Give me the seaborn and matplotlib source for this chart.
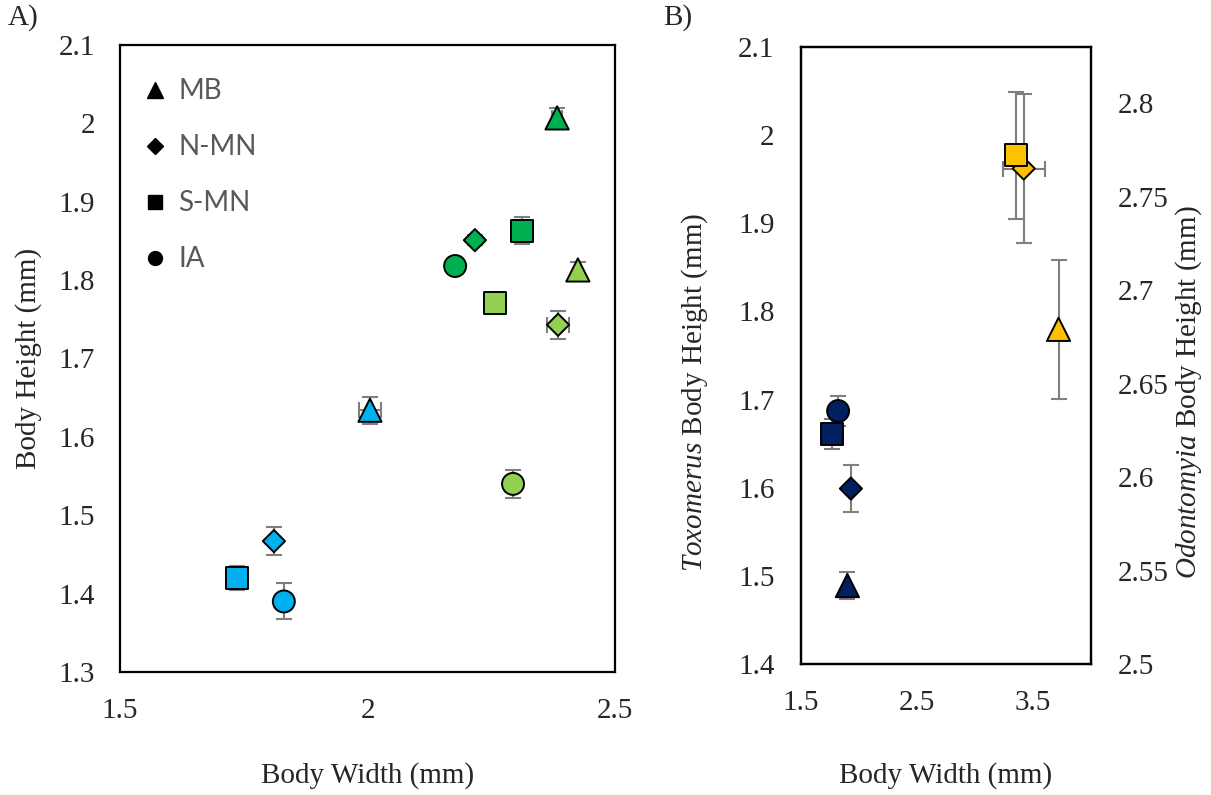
import matplotlib
matplotlib.use("Agg")
import matplotlib.pyplot as plt
from matplotlib.lines import Line2D
from matplotlib.ticker import FixedLocator, FuncFormatter
import pandas as pd
import seaborn as sns

# ---------------------------------------------------------------- data
regions = ["MB", "N-MN", "S-MN", "IA"]

# Panel A: three populations, one mean per region (mm) with standard errors
a_dark_width = [2.383, 2.217, 2.312, 2.177]
a_dark_height = [2.007, 1.851, 1.863, 1.818]
a_dark_xerr = [0.010, 0.004, 0.004, 0.004]
a_dark_yerr = [0.013, 0.006, 0.017, 0.006]

a_light_width = [2.425, 2.385, 2.258, 2.294]
a_light_height = [1.813, 1.743, 1.771, 1.540]
a_light_xerr = [0.004, 0.022, 0.004, 0.004]
a_light_yerr = [0.010, 0.018, 0.006, 0.018]

a_blue_width = [2.005, 1.811, 1.736, 1.831]
a_blue_height = [1.634, 1.467, 1.420, 1.390]
a_blue_xerr = [0.022, 0.005, 0.005, 0.005]
a_blue_yerr = [0.017, 0.018, 0.015, 0.023]

# Panel B: Toxomerus (left axis) and Odontomyia (right axis)
tox_width = [1.90, 1.93, 1.77, 1.82]
tox_height = [1.489, 1.599, 1.661, 1.687]
tox_xerr = [0.0, 0.0, 0.0, 0.0]
tox_yerr = [0.015, 0.027, 0.017, 0.017]

odo_width = [3.72, 3.42, 3.35]
odo_height = [2.679, 2.765, 2.772]
odo_xerr = [0.0, 0.18, 0.0]
odo_yerr = [0.037, 0.040, 0.034]
odo_regions = ["MB", "N-MN", "S-MN"]

a_ticks_x = [1.5, 2.0, 2.5]
a_ticks_y = [1.3, 1.4, 1.5, 1.6, 1.7, 1.8, 1.9, 2.0, 2.1]
b_ticks_x = [1.5, 2.5, 3.5]
b_ticks_y = [1.4, 1.5, 1.6, 1.7, 1.8, 1.9, 2.0, 2.1]
b_ticks_y2 = [2.5, 2.55, 2.6, 2.65, 2.7, 2.75, 2.8]

# ---------------------------------------------------------------- style
sns.set_style("white")
plt.rcParams["font.family"] = ["Liberation Serif", "DejaVu Serif"]
plt.rcParams["mathtext.fontset"] = "custom"
plt.rcParams["mathtext.rm"] = "Liberation Serif"
plt.rcParams["mathtext.it"] = "Liberation Serif:italic"

FS = 21
colors = {"dark": "#00B050", "light": "#92D050", "blue": "#00B0F0",
          "navy": "#002060", "gold": "#FFC000"}
markers = {"MB": "^", "N-MN": "D", "S-MN": "s", "IA": "o"}
areas = {"MB": 280, "N-MN": 128, "S-MN": 250, "IA": 250}
draw_rank = {"MB": 0, "IA": 1, "N-MN": 2, "S-MN": 3}
ERR = dict(fmt="none", ecolor="#7F7F7F", elinewidth=1.5, capsize=5.5,
           capthick=1.5, zorder=2)


def frame(rows):
    df = pd.DataFrame(rows, columns=["group", "region", "width", "height",
                                     "xerr", "yerr"])
    return df.sort_values("region", key=lambda s: s.map(draw_rank),
                          kind="stable").reset_index(drop=True)


def add_points(ax, df):
    ax.errorbar(df["width"], df["height"], yerr=df["yerr"], **ERR)
    xb = df[df["xerr"] > 0]
    ax.errorbar(xb["width"], xb["height"], xerr=xb["xerr"], **ERR)
    sns.scatterplot(data=df, x="width", y="height", hue="group",
                    palette=colors, style="region", markers=markers,
                    size="region", sizes=areas, edgecolor="black",
                    linewidth=1.4, legend=False, ax=ax, zorder=3)


def style_axis(ax):
    for sp in ax.spines.values():
        sp.set_visible(True)
        sp.set_color("black")
        sp.set_linewidth(1.6)
    ax.tick_params(length=0, labelsize=FS)
    fmt = FuncFormatter(lambda v, p: f"{round(v, 3):g}")
    ax.xaxis.set_major_formatter(fmt)
    ax.yaxis.set_major_formatter(fmt)
    ax.set_xlabel("")
    ax.set_ylabel("")
    ax.grid(False)


rows_a = []
for key, w, h, xe, ye in [
        ("dark", a_dark_width, a_dark_height, a_dark_xerr, a_dark_yerr),
        ("light", a_light_width, a_light_height, a_light_xerr, a_light_yerr),
        ("blue", a_blue_width, a_blue_height, a_blue_xerr, a_blue_yerr)]:
    for i, r in enumerate(regions):
        rows_a.append((key, r, w[i], h[i], xe[i], ye[i]))
df_a = frame(rows_a)

df_tox = frame([("navy", r, tox_width[i], tox_height[i], tox_xerr[i],
                 tox_yerr[i]) for i, r in enumerate(regions)])
df_odo = frame([("gold", r, odo_width[i], odo_height[i], odo_xerr[i],
                 odo_yerr[i]) for i, r in enumerate(odo_regions)])

# ---------------------------------------------------------------- figure
fig = plt.figure(figsize=(12.11, 7.95), dpi=100)
W, H = 1211, 795

# Panel A
ax_a = fig.add_axes([120 / W, 1 - 672 / H, 495 / W, 627 / H])
add_points(ax_a, df_a)
style_axis(ax_a)
ax_a.set_xlim(1.5, 2.5)
ax_a.set_ylim(1.3, 2.1)
ax_a.xaxis.set_major_locator(FixedLocator(a_ticks_x))
ax_a.yaxis.set_major_locator(FixedLocator(a_ticks_y))
ax_a.tick_params(axis="y", pad=18)
ax_a.tick_params(axis="x", pad=19)
ax_a.set_xlabel("Body Width (mm)", fontsize=FS)
ax_a.set_ylabel("Body Height (mm)", fontsize=FS)
ax_a.xaxis.set_label_coords(0.5, -0.143)
ax_a.yaxis.set_label_coords(-0.158, 0.5)

handles = [Line2D([], [], marker="^", color="black", linestyle="none", markersize=12),
           Line2D([], [], marker="D", color="black", linestyle="none", markersize=7.8),
           Line2D([], [], marker="s", color="black", linestyle="none", markersize=10),
           Line2D([], [], marker="o", color="black", linestyle="none", markersize=10)]
ax_a.legend(handles, regions, loc="upper left", bbox_to_anchor=(0.042, 0.947),
            frameon=False, borderpad=0, borderaxespad=0, handlelength=1.0,
            handletextpad=0.35, labelspacing=1.08, labelcolor="#595959",
            prop={"family": ["Lato", "DejaVu Sans"], "size": 20})

# Panel B
ax_b = fig.add_axes([801 / W, 1 - 664 / H, 290 / W, 617 / H])
ax_b2 = ax_b.twinx()
add_points(ax_b, df_tox)
add_points(ax_b2, df_odo)
for ax in (ax_b, ax_b2):
    style_axis(ax)
ax_b.set_xlim(1.5, 4.0)
ax_b.set_ylim(1.4, 2.1)
ax_b2.set_ylim(2.5, 2.83)
ax_b.xaxis.set_major_locator(FixedLocator(b_ticks_x))
ax_b.yaxis.set_major_locator(FixedLocator(b_ticks_y))
ax_b2.yaxis.set_major_locator(FixedLocator(b_ticks_y2))
ax_b.tick_params(axis="y", pad=19)
ax_b.tick_params(axis="x", pad=19)
ax_b2.tick_params(axis="y", pad=19)
ax_b.set_xlabel("Body Width (mm)", fontsize=FS)
ax_b.set_ylabel(r"$\mathit{Toxomerus}$ Body Height (mm)", fontsize=FS)
ax_b2.set_ylabel(r"$\mathit{Odontomyia}$ Body Height (mm)", fontsize=FS)
ax_b.xaxis.set_label_coords(0.5, -0.159)
ax_b.yaxis.set_label_coords(-0.314, 0.44)
ax_b2.yaxis.set_label_coords(1.283, 0.44)

fig.text(8 / W, 1 - 4 / H, "A)", fontsize=FS, ha="left", va="top")
fig.text(663 / W, 1 - 4 / H, "B)", fontsize=FS, ha="left", va="top")

fig.savefig("out.png", dpi=100, facecolor="white")
